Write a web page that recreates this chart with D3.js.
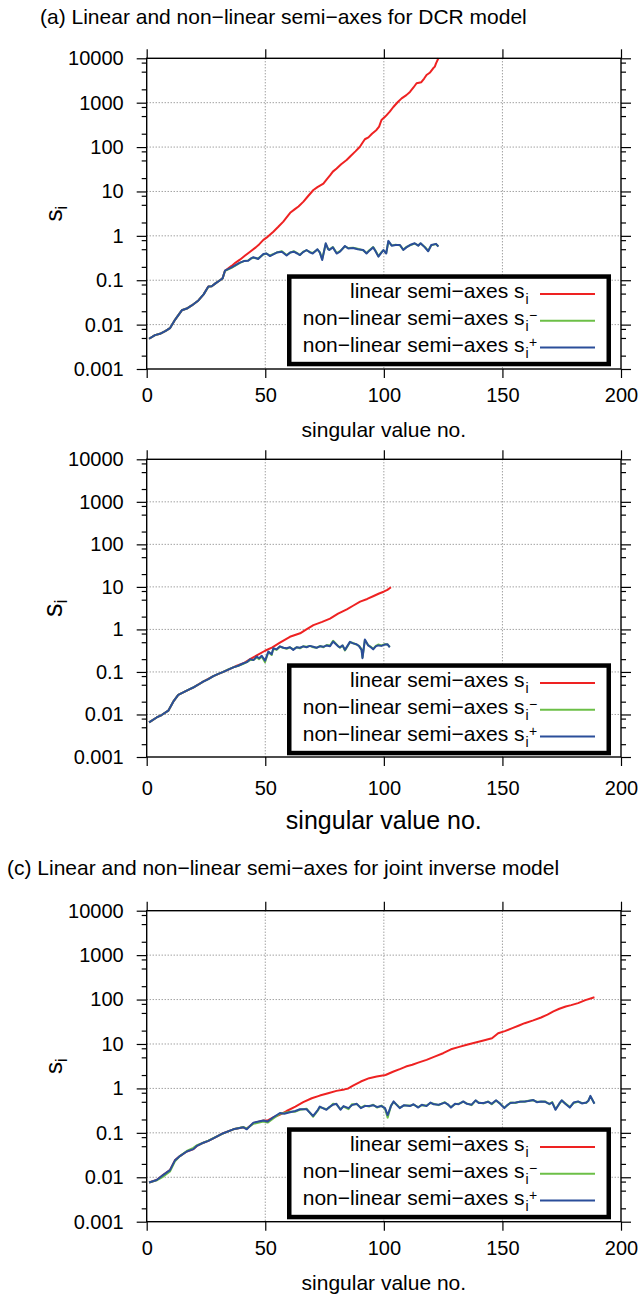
<!DOCTYPE html>
<html>
<head>
<meta charset="utf-8">
<script src="https://cdnjs.cloudflare.com/ajax/libs/d3/7.8.5/d3.min.js"></script>
<style>
  body { margin: 0; background: #fff; }
  svg text { font-family: "Liberation Sans", Arial, sans-serif; fill: #000; }
</style>
</head>
<body>
<svg width="643" height="1298"></svg>
<script>
// tick values / labels
const yTicks = [0.001, 0.01, 0.1, 1, 10, 100, 1000, 10000];
const yTickLabels = ['0.001', '0.01', '0.1', '1', '10', '100', '1000', '10000'];
const yMinor = [0.002, 0.005, 0.008, 0.02, 0.05, 0.08, 0.2, 0.5, 0.8, 2, 5, 8, 20, 50, 80, 200, 500, 800, 2000, 5000, 8000];
const xTicks = [0, 50, 100, 150, 200];
const xLabel = 'singular value no.';
const legendLabels = ['linear semi\u2212axes s', 'non\u2212linear semi\u2212axes s', 'non\u2212linear semi\u2212axes s'];
const legendSup = ['', '\u2212', '+'];
const titleA = '(a) Linear and non\u2212linear semi\u2212axes for DCR model';
const titleC = '(c) Linear and non\u2212linear semi\u2212axes for joint inverse model';

// (a) DCR model: [singular value no., s_i]
const redA = [[1,0.0048],[3.5,0.0058],[5.6,0.0062],[8,0.0072],[9.8,0.0083],[12,0.013],[14.8,0.021],[16.9,0.023],[19,0.027],[21.8,0.035],
  [24,0.048],[26,0.072],[27.4,0.073],[29,0.085],[30.9,0.10],[32,0.11],[33,0.164],[35.8,0.21],[37.5,0.25],[39.3,0.29],
  [41.5,0.36],[43.6,0.44],[46,0.55],[47.5,0.65],[49.2,0.81],[51,0.95],[53.4,1.24],[55.5,1.6],[57.6,2.09],[59,2.6],
  [60.5,3.3],[62.5,4.0],[64,4.6],[66.1,5.9],[68,7.8],[70.3,10.8],[72,12.5],[74.5,15],[76,19],[77.3,23],
  [78.5,28],[80.1,33],[82,41],[84.3,51],[86,63],[88,80],[89.9,102],[91,125],[92,150],[93.5,165],
  [95,200],[96.9,243],[98,290],[99,408],[100.5,480],[102.5,630],[104,800],[106,1050],[107.5,1250],[109.5,1480],
  [111,1750],[112.5,2200],[113.8,2740],[115.8,2900],[117,3500],[118,4200],[119.5,4800],[120.8,5950],[121.5,6500],[122,7700],[123,10000]];
const greenA = [[1,0.0048],[3.5,0.0058],[5.6,0.0062],[8,0.0072],[9.8,0.0083],[12,0.013],[14.8,0.021],[16.9,0.023],[19,0.027],[21.8,0.035],
  [24,0.048],[26,0.071],[27.4,0.073],[29,0.085],[30.9,0.10],[32,0.11],[33,0.162],[35.8,0.19],[39.3,0.245],[41,0.27],
  [42.8,0.28],[44,0.31],[45,0.32],[47,0.31],[49.2,0.38],[50.5,0.40],[52,0.36],[54.8,0.42],[57,0.45],[59,0.37],
  [60.5,0.42],[62,0.45],[63.5,0.41],[64.6,0.37],[66,0.44],[67.4,0.47],[69,0.43],[70,0.41],[72,0.49],[73,0.43],
  [74,0.30],[75.5,0.66],[76.5,0.51],[77,0.49],[78.5,0.56],[80.1,0.41],[81.5,0.45],[83.6,0.58],[85,0.53],[87,0.54],
  [89,0.51],[91.3,0.47],[92.7,0.41],[94,0.48],[95.5,0.56],[96.5,0.46],[97.7,0.35],[99,0.43],[99.8,0.47],[101,0.41],
  [101.9,0.74],[103.3,0.61],[105,0.63],[106.8,0.61],[108.2,0.49],[109.5,0.56],[111,0.61],[113,0.67],[114.5,0.61],[115.5,0.67],
  [117.3,0.56],[118.7,0.46],[120,0.61],[122,0.65],[123,0.58]];
const blueA = [[1,0.0048],[3.5,0.0058],[5.6,0.0062],[8,0.0072],[9.8,0.0083],[12,0.013],[14.8,0.021],[16.9,0.023],[19,0.027],[21.8,0.035],
  [24,0.048],[26,0.072],[27.4,0.073],[29,0.085],[30.9,0.10],[32,0.11],[33,0.164],[35.8,0.195],[39.3,0.25],[41,0.27],
  [42.8,0.275],[44,0.31],[45,0.33],[47,0.30],[49.2,0.39],[50.5,0.40],[52,0.35],[54.8,0.42],[57,0.44],[59,0.36],
  [60.5,0.42],[62,0.44],[63.5,0.40],[64.6,0.37],[66,0.43],[67.4,0.48],[69,0.42],[70,0.40],[72,0.50],[73,0.42],
  [74,0.285],[75.5,0.68],[76.5,0.50],[77,0.48],[78.5,0.55],[80.1,0.40],[81.5,0.44],[83.6,0.59],[85,0.52],[87,0.53],
  [89,0.50],[91.3,0.48],[92.7,0.40],[94,0.47],[95.5,0.55],[96.5,0.45],[97.7,0.34],[99,0.42],[99.8,0.48],[101,0.40],
  [101.9,0.77],[103.3,0.60],[105,0.62],[106.8,0.62],[108.2,0.48],[109.5,0.55],[111,0.62],[113,0.68],[114.5,0.60],[115.5,0.68],
  [117.3,0.55],[118.7,0.45],[120,0.62],[122,0.66],[123,0.57]];

// (b)
const redB = [[1,0.0065],[4.2,0.0085],[6.3,0.0097],[9.1,0.0123],[11.2,0.020],[13.3,0.029],[15.4,0.033],[19.6,0.043],[23.8,0.059],[28.1,0.08],
  [32.3,0.10],[36.5,0.128],[38,0.14],[40.8,0.16],[43.6,0.20],[46.4,0.245],[49.9,0.315],[53,0.38],[56,0.48],[60.4,0.67],
  [64.7,0.81],[67,0.98],[70.3,1.26],[74,1.5],[77.3,1.8],[80.7,2.35],[84.4,2.96],[87,3.6],[90,4.5],[93,5.2],
  [95.7,6.1],[98,7.0],[99.9,7.7],[101.5,8.5],[103,9.8]];
const greenB = [[1,0.0065],[4.2,0.0085],[6.3,0.0097],[9.1,0.0123],[11.2,0.020],[13.3,0.029],[15.4,0.033],[17.5,0.038],[19.6,0.043],[21.7,0.050],
  [23.8,0.059],[26,0.068],[28.1,0.08],[30.2,0.09],[32.3,0.10],[34.4,0.115],[36.5,0.128],[38.6,0.14],[40.8,0.155],[42.2,0.17],
  [43.6,0.19],[45,0.19],[46.4,0.22],[47.4,0.20],[48.5,0.23],[49.9,0.17],[51.3,0.29],[52.7,0.25],[53.4,0.35],[54.8,0.33],
  [56.2,0.39],[57.6,0.37],[59,0.35],[60.4,0.38],[61.8,0.34],[63.2,0.38],[64.6,0.36],[66,0.40],[67.4,0.39],[68.8,0.41],
  [70.2,0.38],[71.6,0.37],[73.1,0.41],[74.5,0.38],[75.9,0.43],[77.3,0.42],[78.6,0.54],[80.7,0.41],[81.5,0.37],[82.6,0.42],
  [83.6,0.32],[85.7,0.50],[87,0.48],[88.5,0.44],[89.6,0.41],[90.6,0.34],[91,0.22],[92,0.56],[93.4,0.43],[94.5,0.39],
  [95.5,0.35],[96.6,0.41],[97.6,0.44],[99,0.42],[100.4,0.45],[101.5,0.44],[102.5,0.39]];
const blueB = [[1,0.0065],[4.2,0.0085],[6.3,0.0097],[9.1,0.0123],[11.2,0.020],[13.3,0.029],[15.4,0.033],[17.5,0.038],[19.6,0.043],[21.7,0.050],
  [23.8,0.059],[26,0.068],[28.1,0.08],[30.2,0.09],[32.3,0.10],[34.4,0.113],[36.5,0.128],[38.6,0.14],[40.8,0.16],[42.2,0.17],
  [43.6,0.20],[45,0.19],[46.4,0.23],[47.4,0.21],[48.5,0.24],[49.9,0.185],[51.3,0.30],[52.7,0.26],[53.4,0.36],[54.8,0.34],
  [56.2,0.40],[57.6,0.37],[59,0.36],[60.4,0.38],[61.8,0.33],[63.2,0.38],[64.6,0.37],[66,0.40],[67.4,0.38],[68.8,0.41],
  [70.2,0.39],[71.6,0.37],[73.1,0.40],[74.5,0.39],[75.9,0.42],[77.3,0.40],[78.6,0.52],[80.7,0.40],[81.5,0.38],[82.6,0.42],
  [83.6,0.33],[85.7,0.51],[87,0.47],[88.5,0.45],[89.6,0.40],[90.6,0.33],[91,0.21],[92,0.58],[93.4,0.42],[94.5,0.38],
  [95.5,0.34],[96.6,0.40],[97.6,0.42],[99,0.41],[100.4,0.44],[101.5,0.45],[102.5,0.38]];

// (c) joint inverse model
const redC = [[1,0.0076],[4.2,0.0087],[7,0.0113],[9.8,0.0145],[11.9,0.024],[14,0.030],[16.9,0.038],[19.7,0.043],[21,0.050],[23.9,0.060],
  [26,0.066],[28.1,0.075],[32.3,0.098],[36.5,0.12],[40.8,0.133],[42.2,0.125],[45,0.165],[49.2,0.19],[51,0.19],[53.4,0.224],
  [55.8,0.25],[59,0.31],[62.7,0.39],[66,0.49],[69.6,0.60],[73,0.69],[76.5,0.78],[80,0.88],[83.4,0.95],[85,1.0],
  [87,1.15],[90.3,1.43],[93.8,1.7],[97,1.85],[100.7,2.0],[104.1,2.4],[107,2.75],[109.3,3.1],[112,3.4],[114.5,3.8],
  [118,4.4],[121.4,5.2],[125,6.2],[128.3,7.6],[131.8,8.6],[135,9.6],[138.7,10.8],[142,12],[145.6,13.5],[148.2,17.5],
  [151,19.5],[154.2,22.7],[157,26],[159.4,29.4],[163,34],[166.3,39.5],[169,46],[171.5,54],[174,62],[176.7,70],
  [179,75],[181.9,83],[185,97],[188.8,113]];
const greenC = [[1,0.0076],[4.2,0.0085],[7,0.0104],[9.8,0.0135],[11.9,0.023],[14,0.030],[16.9,0.039],[19.7,0.046],[21,0.052],[23.9,0.060],
  [26,0.067],[28.1,0.076],[32.3,0.097],[36.5,0.12],[40.8,0.135],[42.2,0.125],[45,0.16],[49.2,0.18],[51,0.17],[53.4,0.21],
  [56.2,0.27],[58,0.28],[60.4,0.30],[62.7,0.30],[64.6,0.33],[67.4,0.35],[70.2,0.23],[72.2,0.32],[73,0.38],[75.8,0.34],
  [77,0.37],[78.6,0.45],[80,0.44],[81.7,0.34],[83,0.39],[85.1,0.34],[86.5,0.44],[88.6,0.44],[90.3,0.37],[92,0.41],
  [93.8,0.39],[95.5,0.43],[97.2,0.37],[99,0.41],[100.5,0.35],[101.6,0.22],[103,0.41],[104.1,0.49],[105.5,0.43],[106.7,0.37],
  [108.5,0.41],[111,0.41],[112.5,0.43],[114.5,0.38],[116,0.42],[118,0.41],[119.7,0.47],[121,0.45],[123.1,0.42],[125.7,0.49],
  [127,0.43],[128.3,0.38],[130,0.44],[131.5,0.45],[133.5,0.50],[135,0.46],[137,0.42],[138.7,0.53],[140,0.48],[142.1,0.46],
  [144,0.51],[145.5,0.44],[147.3,0.53],[149,0.46],[150.8,0.37],[152,0.41],[153.4,0.48],[155.5,0.47],[157.5,0.51],[159.4,0.50],
  [161,0.53],[162.9,0.54],[164.5,0.50],[166.3,0.50],[168,0.51],[169.8,0.44],[171,0.49],[172.4,0.34],[174,0.45],[175,0.53],
  [176.5,0.46],[178.4,0.38],[180,0.47],[181.9,0.50],[183.5,0.47],[185.3,0.47],[186.2,0.53],[187.1,0.66],[188.8,0.46]];
const blueC = [[1,0.0076],[4.2,0.0087],[7,0.0113],[9.8,0.0145],[11.9,0.024],[14,0.030],[16.9,0.038],[19.7,0.043],[21,0.050],[23.9,0.060],
  [26,0.066],[28.1,0.075],[32.3,0.098],[36.5,0.12],[40.8,0.133],[42.2,0.12],[45,0.17],[49.2,0.19],[51,0.18],[53.4,0.224],
  [56.2,0.28],[58,0.27],[60.4,0.29],[62.7,0.31],[64.6,0.34],[67.4,0.34],[70.2,0.24],[72.2,0.33],[73,0.39],[75.8,0.33],
  [77,0.38],[78.6,0.43],[80,0.45],[81.7,0.33],[83,0.40],[85.1,0.36],[86.5,0.42],[88.6,0.45],[90.3,0.36],[92,0.40],
  [93.8,0.40],[95.5,0.42],[97.2,0.38],[99,0.40],[100.5,0.36],[101.6,0.25],[103,0.40],[104.1,0.51],[105.5,0.42],[106.7,0.36],
  [108.5,0.42],[111,0.40],[112.5,0.44],[114.5,0.37],[116,0.43],[118,0.40],[119.7,0.48],[121,0.44],[123.1,0.43],[125.7,0.48],
  [127,0.44],[128.3,0.37],[130,0.45],[131.5,0.44],[133.5,0.51],[135,0.45],[137,0.43],[138.7,0.54],[140,0.47],[142.1,0.47],
  [144,0.50],[145.5,0.45],[147.3,0.54],[149,0.45],[150.8,0.36],[152,0.42],[153.4,0.47],[155.5,0.48],[157.5,0.50],[159.4,0.51],
  [161,0.52],[162.9,0.55],[164.5,0.49],[166.3,0.51],[168,0.50],[169.8,0.45],[171,0.48],[172.4,0.33],[174,0.46],[175,0.54],
  [176.5,0.45],[178.4,0.37],[180,0.48],[181.9,0.51],[183.5,0.46],[185.3,0.48],[186.2,0.52],[187.1,0.68],[188.8,0.45]];

const colors = ['#ee2222', '#6cbf47', '#2b4e9a'];
const X0 = 146.7, X1 = 621;
const svg = d3.select('svg');
const font = '"Liberation Sans", Arial, sans-serif';

// per-panel layout
const panels = [
  { top: 58.3, bottom: 369, title: titleA, titleY: 23.5, tickPad: 9.8, xLabelY: 437, xLabelSize: 21, sSize: 24, iSize: 16, legendTop: 274.3, series: [redA, greenA, blueA] },
  { top: 459.3, bottom: 757, title: null, tickPad: 14.8, xLabelY: 829, xLabelSize: 25, sSize: 27, iSize: 18, legendTop: 663.3, series: [redB, greenB, blueB] },
  { top: 910.7, bottom: 1221.7, title: titleC, titleY: 875, titleX: 7, tickPad: 10, xLabelY: 1290, xLabelSize: 21, sSize: 24, iSize: 16, legendTop: 1127.3, series: [redC, greenC, blueC] }
];

panels.forEach(p => {
  const x = d3.scaleLinear().domain([0, 200]).range([X0, X1]);
  const y = d3.scaleLog().domain([0.001, 10000]).range([p.bottom, p.top]);
  const g = svg.append('g');

  if (p.title) {
    g.append('text')
      .attr('x', p.titleX || 40)
      .attr('y', p.titleY)
      .attr('font-size', 21)
      .text(p.title);
  }

  // dotted grid
  g.append('g').selectAll('line').data(xTicks.slice(1, -1)).join('line')
    .attr('x1', d => x(d)).attr('x2', d => x(d))
    .attr('y1', p.top).attr('y2', p.bottom)
    .attr('stroke', '#777').attr('stroke-dasharray', '1,2');
  g.append('g').selectAll('line').data(yTicks.slice(1, -1)).join('line')
    .attr('x1', X0).attr('x2', X1)
    .attr('y1', d => y(d)).attr('y2', d => y(d))
    .attr('stroke', '#777').attr('stroke-dasharray', '1,2');

  const line = d3.line().x(d => x(d[0])).y(d => y(d[1]));
  p.series.forEach((s, i) => {
    g.append('path')
      .attr('d', line(s))
      .attr('fill', 'none')
      .attr('stroke', colors[i])
      .attr('stroke-width', 2)
      .attr('stroke-linejoin', 'round');
  });

  // axes
  const styleAxis = sel => {
    sel.select('.domain').remove();
    sel.selectAll('line').attr('stroke', '#000').attr('stroke-width', 1.2);
    sel.attr('font-size', 20).attr('font-family', font);
  };
  g.append('g').attr('transform', `translate(${X0},0)`)
    .call(d3.axisLeft(y).tickValues(yTicks).tickFormat((d, i) => yTickLabels[i]).tickSize(10).tickSizeOuter(0).tickPadding(13))
    .call(styleAxis);
  g.append('g').attr('transform', `translate(${X0},0)`)
    .call(d3.axisLeft(y).tickValues(yMinor).tickFormat('').tickSize(5).tickSizeOuter(0))
    .call(styleAxis);
  g.append('g').attr('transform', `translate(${X1},0)`)
    .call(d3.axisRight(y).tickValues(yTicks).tickFormat('').tickSize(10).tickSizeOuter(0))
    .call(styleAxis);
  g.append('g').attr('transform', `translate(${X1},0)`)
    .call(d3.axisRight(y).tickValues(yMinor).tickFormat('').tickSize(5).tickSizeOuter(0))
    .call(styleAxis);
  g.append('g').attr('transform', `translate(0,${p.bottom})`)
    .call(d3.axisBottom(x).tickValues(xTicks).tickSize(9).tickSizeOuter(0).tickPadding(p.tickPad))
    .call(styleAxis);
  g.append('g').attr('transform', `translate(0,${p.top})`)
    .call(d3.axisTop(x).tickValues(xTicks).tickFormat('').tickSize(9).tickSizeOuter(0))
    .call(styleAxis);

  g.append('rect')
    .attr('x', X0).attr('y', p.top)
    .attr('width', X1 - X0).attr('height', p.bottom - p.top)
    .attr('fill', 'none').attr('stroke', '#000').attr('stroke-width', 1.4);

  // axis titles
  g.append('text')
    .attr('x', (X0 + X1) / 2).attr('y', p.xLabelY)
    .attr('text-anchor', 'middle')
    .attr('font-size', p.xLabelSize)
    .text(xLabel);
  const yl = g.append('text')
    .attr('transform', `translate(62,${(p.top + p.bottom) / 2}) rotate(-90)`)
    .attr('text-anchor', 'middle');
  yl.append('tspan').attr('font-size', p.sSize).text('s');
  yl.append('tspan').attr('font-size', p.iSize).attr('dy', 5).text('i');

  // legend
  const lg = g.append('g').attr('transform', `translate(287,${p.legendTop})`);
  lg.append('rect')
    .attr('x', 2.25).attr('y', 2.25).attr('width', 319.5).attr('height', 87.5)
    .attr('fill', '#fff').attr('stroke', '#000').attr('stroke-width', 4.5);
  legendLabels.forEach((lab, i) => {
    const ty = 24 + i * 26.7;
    lg.append('text').attr('x', 237.5).attr('y', ty)
      .attr('text-anchor', 'end').attr('font-size', 21).text(lab);
    lg.append('text').attr('x', 238.5).attr('y', ty + 6)
      .attr('font-size', 14).text('i');
    if (legendSup[i]) {
      lg.append('text').attr('x', 242).attr('y', ty - 5)
        .attr('font-size', 14).text(legendSup[i]);
    }
    lg.append('line')
      .attr('x1', 253).attr('x2', 308)
      .attr('y1', ty - 4.3).attr('y2', ty - 4.3)
      .attr('stroke', colors[i]).attr('stroke-width', 2);
  });
});
</script>
</body>
</html>
